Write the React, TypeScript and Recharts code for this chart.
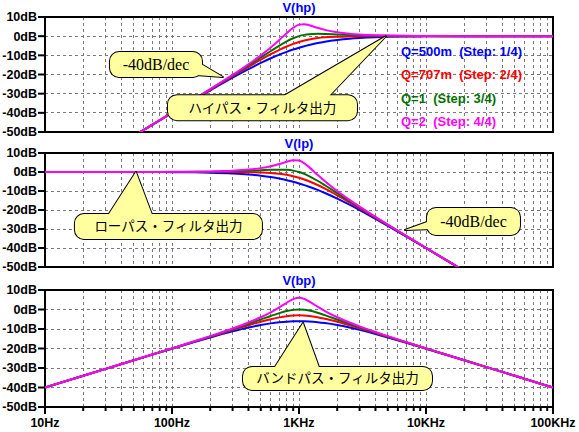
import React from "react";
import {
  LineChart,
  Line,
  XAxis,
  YAxis,
  CartesianGrid,
  ReferenceArea,
  ReferenceDot,
} from "recharts";

// frequency points (Hz)
const freqs = [
  10, 20, 30, 50, 70, 100, 150, 200, 300, 400, 500, 600, 700, 800, 900, 1000,
  1100, 1200, 1400, 1600, 2000, 2500, 3000, 4000, 5000, 7000, 10000, 20000,
  30000, 50000, 100000,
];

// V(hp) in dB
const hpQ05 = [-80, -67.97, -60.9, -52.06, -46.24, -40.09, -33.15, -28.3, -21.66, -17.21, -13.98, -11.54, -9.66, -8.17, -6.98, -6.02, -5.23, -4.58, -3.58, -2.86, -1.94, -1.29, -0.92, -0.53, -0.34, -0.18, -0.09, -0.02, -0.01, 0, 0];
const hpQ07 = [-80, -67.96, -60.9, -52.04, -46.2, -40, -32.96, -27.97, -20.95, -16.03, -12.3, -9.4, -7.13, -5.37, -4.02, -3.01, -2.26, -1.71, -1.01, -0.62, -0.26, -0.11, -0.05, -0.02, -0.01, 0, 0, 0, 0, 0, 0];
const hpQ1 = [-80, -67.95, -60.9, -52.03, -46.18, -39.96, -32.86, -27.79, -20.55, -15.29, -11.14, -7.73, -4.95, -2.74, -1.1, 0, 0.67, 1.04, 1.25, 1.18, 0.9, 0.63, 0.45, 0.26, 0.17, 0.09, 0.04, 0.01, 0, 0, 0];
const hpQ2 = [-80, -67.95, -60.9, -52.02, -46.16, -39.92, -32.79, -27.65, -20.21, -14.64, -10, -5.86, -2.02, 1.51, 4.39, 6.02, 6.26, 5.74, 4.35, 3.29, 2.04, 1.28, 0.87, 0.48, 0.31, 0.16, 0.08, 0.02, 0.01, 0, 0];

// V(lp) in dB
const lpQ05 = [0, 0, -0.01, -0.02, -0.04, -0.09, -0.19, -0.34, -0.75, -1.29, -1.94, -2.67, -3.46, -4.3, -5.15, -6.02, -6.89, -7.75, -9.43, -11.03, -13.98, -17.21, -20, -24.61, -28.3, -33.98, -40.09, -52.06, -59.09, -67.96, -80];
const lpQ07 = [0, 0, 0, 0, 0, 0, 0, -0.01, -0.04, -0.11, -0.26, -0.53, -0.93, -1.49, -2.19, -3.01, -3.92, -4.88, -6.85, -8.78, -12.3, -16.03, -19.14, -24.1, -27.97, -33.81, -40, -52.04, -59.08, -67.96, -80];
const lpQ1 = [0, 0, 0, 0.01, 0.02, 0.04, 0.1, 0.17, 0.37, 0.63, 0.9, 1.14, 1.25, 1.14, 0.73, 0, -0.98, -2.13, -4.6, -6.98, -11.14, -15.29, -18.63, -23.82, -27.79, -33.72, -39.96, -52.03, -59.08, -67.96, -80];
const lpQ2 = [0, 0, 0.01, 0.02, 0.04, 0.08, 0.17, 0.31, 0.7, 1.28, 2.04, 3.01, 4.17, 5.38, 6.22, 6.02, 4.6, 2.57, -1.5, -4.88, -10, -14.64, -18.21, -23.6, -27.65, -33.65, -39.92, -52.02, -59.08, -67.96, -80];

// V(bp) in dB
const bpQ05 = [-40, -33.98, -30.47, -26.04, -23.14, -20.09, -16.67, -14.32, -11.21, -9.25, -7.96, -7.11, -6.56, -6.23, -6.07, -6.02, -6.06, -6.16, -6.5, -6.95, -7.96, -9.25, -10.46, -12.57, -14.32, -17.08, -20.09, -26.04, -29.56, -33.98, -40];
const bpQ07 = [-40, -33.98, -30.46, -26.02, -23.1, -20, -16.48, -13.99, -10.49, -8.07, -6.28, -4.97, -4.03, -3.43, -3.11, -3.01, -3.09, -3.29, -3.93, -4.7, -6.28, -8.07, -9.6, -12.06, -13.99, -16.9, -20, -26.02, -29.54, -33.98, -40];
const bpQ1 = [-40, -33.98, -30.45, -26.01, -23.08, -19.96, -16.38, -13.81, -10.09, -7.33, -5.12, -3.3, -1.85, -0.8, -0.19, 0, -0.16, -0.55, -1.67, -2.9, -5.12, -7.33, -9.09, -11.78, -13.81, -16.81, -19.96, -26.01, -29.54, -33.98, -40];
const bpQ2 = [-40, -33.98, -30.45, -26, -23.06, -19.92, -16.31, -13.67, -9.76, -6.68, -3.98, -1.42, 1.07, 3.44, 5.31, 6.02, 5.43, 4.15, 1.43, -0.79, -3.98, -6.68, -8.67, -11.56, -13.67, -16.75, -19.92, -26, -29.54, -33.98, -40];

const seriesKeys = ["q05", "q07", "q1", "q2"];
const seriesNames = ["Q=500m  (Step: 1/4)", "Q=707m  (Step: 2/4)", "Q=1  (Step: 3/4)", "Q=2  (Step: 4/4)"];
const seriesColors = ["#0000ff", "#ff0000", "#007000", "#ff00ff"];

const dbTicks = [-50, -40, -30, -20, -10, 0, 10];
const gridDb = [-40, -30, -20, -10, 0];
const decades = [10, 100, 1000, 10000, 100000];
const decadeLabels = ["10Hz", "100Hz", "1KHz", "10KHz", "100KHz"];
const freqTicks = decades
  .slice(0, -1)
  .flatMap((d) => [1, 2, 3, 4, 5, 6, 7, 8, 9].map((m) => d * m))
  .concat([100000]);

const FILL = "#ffffa0";
const SANS = "'Liberation Sans', Arial, sans-serif";
const JP = "'Noto Sans CJK JP', sans-serif";
const SERIF = "'Liberation Serif', 'Times New Roman', serif";

function toRows(cols: number[][]) {
  return freqs.map((f, i) => {
    const row: Record<string, number> = { f };
    seriesKeys.forEach((k, j) => (row[k] = cols[j][i]));
    return row;
  });
}

const hpRows = toRows([hpQ05, hpQ07, hpQ1, hpQ2]);
const lpRows = toRows([lpQ05, lpQ07, lpQ1, lpQ2]);
const bpRows = toRows([bpQ05, bpQ07, bpQ1, bpQ2]);

// callout: tip sits on data coords, box is offset from the tip in px
interface Callout {
  f: number;
  db: number;
  text: string;
  serif?: boolean;
  bx: number;
  by: number;
  bw: number;
  bh: number;
  base: [number, number][];
}

function CalloutShape({ cx, cy, c }: { cx: number; cy: number; c: Callout }) {
  if (cx == null || cy == null) return null;
  const x = cx + c.bx;
  const y = cy + c.by;
  const tri = `M${cx},${cy} L${cx + c.base[0][0]},${cy + c.base[0][1]} L${cx + c.base[1][0]},${cy + c.base[1][1]} Z`;
  return (
    <g>
      <path d={tri} fill={FILL} stroke="#000" strokeWidth={2} strokeLinejoin="round" />
      <rect x={x} y={y} width={c.bw} height={c.bh} rx={9} fill={FILL} stroke="#000" strokeWidth={2} />
      <path d={tri} fill={FILL} stroke="none" />
      <rect x={x} y={y} width={c.bw} height={c.bh} rx={9} fill={FILL} stroke="none" />
      <text
        x={x + c.bw / 2}
        y={y + c.bh / 2}
        dy="0.36em"
        textAnchor="middle"
        fill="#000"
        fontFamily={c.serif ? SERIF : JP}
        fontSize={c.serif ? 16 : 13.5}
      >
        {c.text}
      </text>
    </g>
  );
}

function FreqTick(props: any) {
  const { x, y, payload } = props;
  const idx = decades.indexOf(payload.value);
  const major = idx >= 0;
  return (
    <g>
      <line x1={x} x2={x} y1={y} y2={y + (major ? 7 : 4)} stroke="#000" strokeWidth={2} />
      {major && (
        <text x={x} y={y + 20} textAnchor="middle" fill="#000" fontFamily={SANS} fontWeight="bold" fontSize={12.5}>
          {decadeLabels[idx]}
        </text>
      )}
    </g>
  );
}

// upper panels keep their axis ticks (for the grid) but draw nothing
function NoTick() {
  return <g />;
}

interface PanelProps {
  title: string;
  rows: Record<string, number>[];
  top: number;
  height: number;
  margin: { top: number; bottom: number };
  showX?: boolean;
  callouts: Callout[];
}

function Panel({ title, rows, top, height, margin, showX, callouts }: PanelProps) {
  return (
    <div style={{ position: "absolute", left: 0, top, width: 579, height }}>
      <div
        style={{
          position: "absolute",
          left: 45,
          width: 508,
          top: margin.top - 17,
          lineHeight: "16px",
          textAlign: "center",
          color: "#0000ff",
          fontFamily: SANS,
          fontWeight: "bold",
          fontSize: 13,
        }}
      >
        {title}
      </div>
      <LineChart
        width={579}
        height={height}
        data={rows}
        margin={{ top: margin.top, right: 26, bottom: margin.bottom, left: 0 }}
      >
        <CartesianGrid
          stroke="#7a7a7a"
          strokeDasharray="3 3"
          shapeRendering="crispEdges"
          verticalValues={freqTicks}
          horizontalValues={gridDb}
        />
        <XAxis
          dataKey="f"
          type="number"
          scale="log"
          domain={[10, 100000]}
          allowDataOverflow
          ticks={freqTicks}
          interval={0}
          height={showX ? 25 : 0}
          axisLine={false}
          tickLine={false}
          tickSize={0}
          tickMargin={0}
          tick={showX ? <FreqTick /> : <NoTick />}
        />
        <YAxis
          type="number"
          domain={[-50, 10]}
          allowDataOverflow
          ticks={dbTicks}
          interval={0}
          width={45}
          axisLine={false}
          tickLine={{ stroke: "#000", strokeWidth: 2 }}
          tickSize={7}
          tickMargin={1}
          tickFormatter={(v: number) => `${v}dB`}
          tick={{ fill: "#000", fontFamily: SANS, fontWeight: "bold", fontSize: 12.5 }}
        />
        {seriesKeys.map((k, i) => (
          <Line
            key={k}
            dataKey={k}
            name={seriesNames[i]}
            type="monotone"
            stroke={seriesColors[i]}
            strokeWidth={2}
            dot={false}
            isAnimationActive={false}
          />
        ))}
        <ReferenceArea
          x1={10}
          x2={100000}
          y1={-50}
          y2={10}
          fill="none"
          fillOpacity={0}
          stroke="#000"
          strokeWidth={2}
          ifOverflow="visible"
        />
        {callouts.map((c, i) => (
          <ReferenceDot
            key={i}
            x={c.f}
            y={c.db}
            r={1}
            zIndex={1000}
            shape={(p: any) => <CalloutShape cx={p.cx} cy={p.cy} c={c} />}
          />
        ))}
      </LineChart>
    </div>
  );
}

const hpCallouts: Callout[] = [
  { f: 252, db: -21.3, text: "-40dB/dec", serif: true, bx: -113, by: -25, bw: 92, bh: 25, base: [[-22, -13], [-27, -2]] },
  { f: 4840, db: 0, text: "ハイパス・フィルタ出力", bx: -218, by: 59, bw: 189, bh: 25, base: [[-106, 62], [-59, 62]] },
];
const lpCallouts: Callout[] = [
  { f: 52, db: 0, text: "ローパス・フィルタ出力", bx: -61, by: 42, bw: 187, bh: 25, base: [[-29, 45], [17, 45]] },
  { f: 6830, db: -30.5, text: "-40dB/dec", serif: true, bx: 22, by: -22, bw: 93, bh: 27, base: [[25, -9], [28, -1]] },
];
const bpCallouts: Callout[] = [
  { f: 1075, db: -6.9, text: "バンドパス・フィルタ出力", bx: -60, by: 44, bw: 189, bh: 23, base: [[-30, 47], [17, 47]] },
];

export default function App() {
  return (
    <div style={{ position: "absolute", left: 0, top: 0, width: 579, height: 432, background: "#fff" }}>
      <Panel title="V(hp)" rows={hpRows} top={0} height={140} margin={{ top: 17, bottom: 8 }} callouts={hpCallouts} />
      <Panel title="V(lp)" rows={lpRows} top={140} height={140} margin={{ top: 13, bottom: 13 }} callouts={lpCallouts} />
      <Panel title="V(bp)" rows={bpRows} top={270} height={162} margin={{ top: 20, bottom: 0 }} showX callouts={bpCallouts} />
      <div
        style={{
          position: "absolute",
          left: 401,
          top: 40,
          fontFamily: SANS,
          fontWeight: "bold",
          fontSize: 13,
          lineHeight: "23.4px",
          whiteSpace: "pre",
        }}
      >
        {seriesNames.map((n, i) => (
          <div key={n} style={{ color: seriesColors[i] }}>
            {n}
          </div>
        ))}
      </div>
    </div>
  );
}
